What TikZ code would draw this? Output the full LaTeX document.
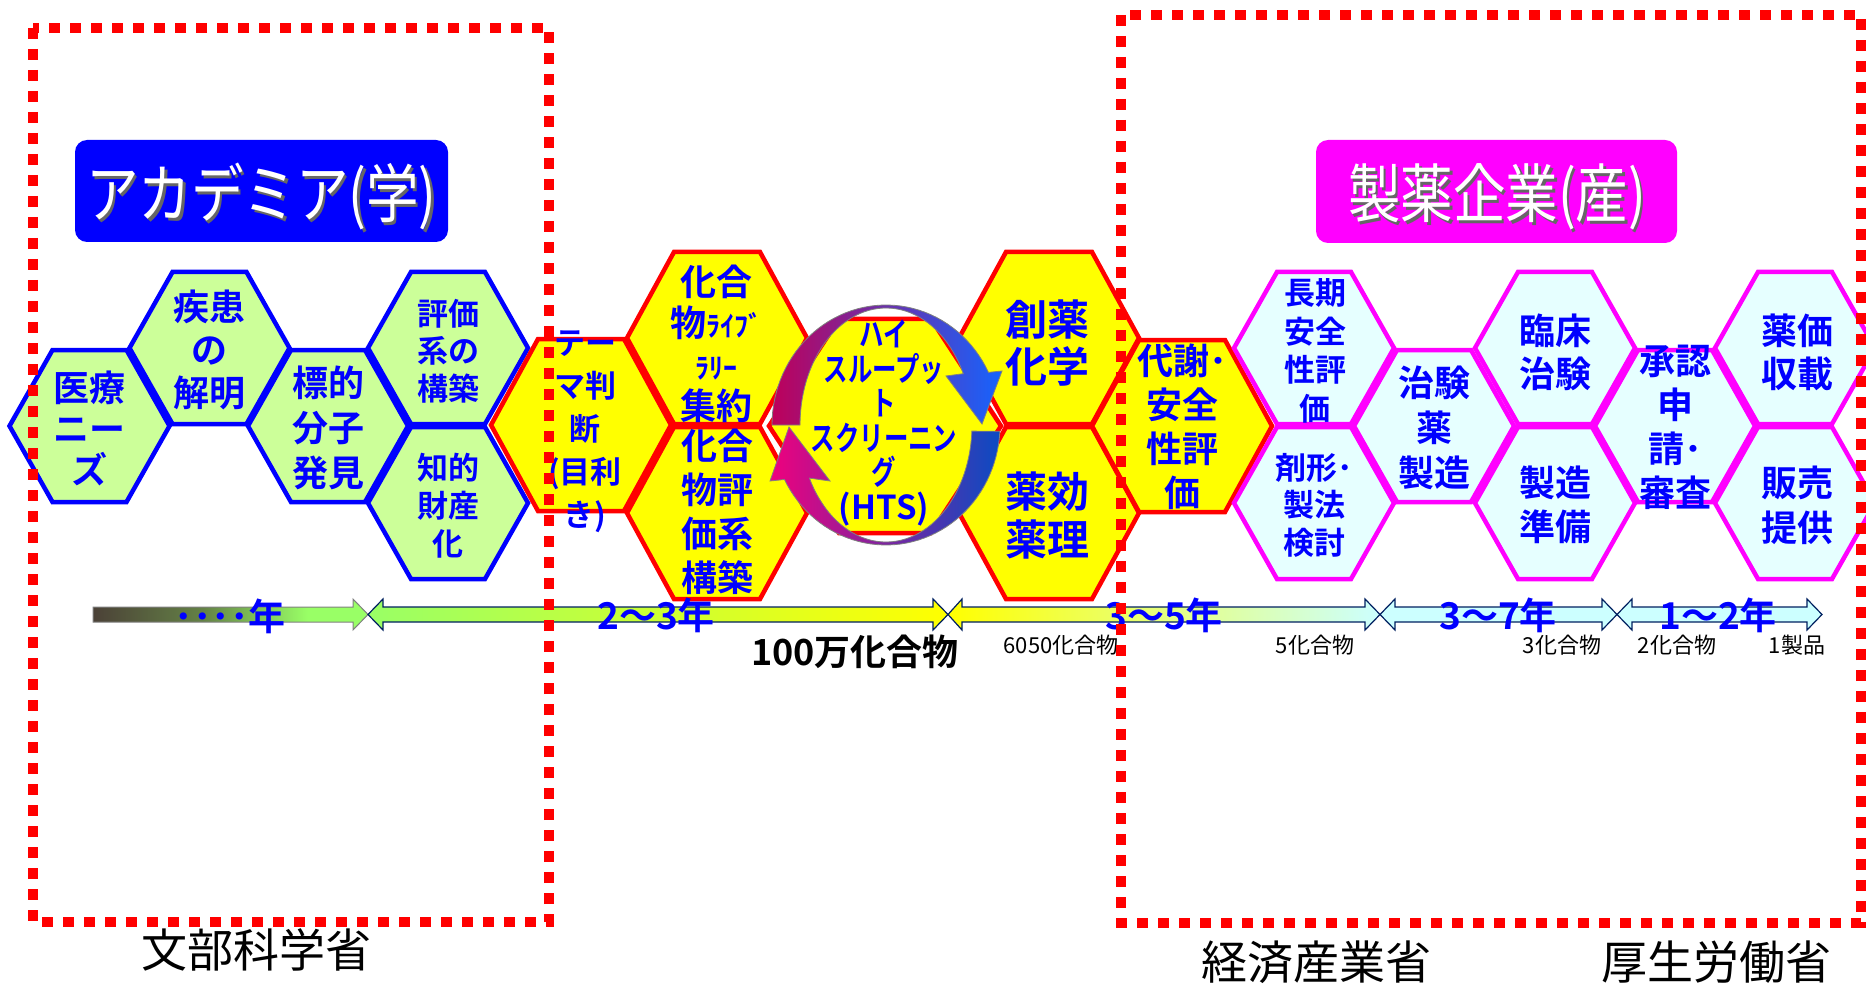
\documentclass[tikz,border=0pt]{standalone}
\usepackage{fontspec}
\newfontfamily\jp{Noto Sans CJK JP}[BoldFont={Noto Sans CJK JP Bold}]
\newfontfamily\jpbc{Noto Sans CJK JP Bold}[FakeStretch=0.74]
\newfontfamily\jpc{Noto Sans CJK JP}[FakeStretch=0.82]
\definecolor{hexgreen}{RGB}{204,255,153}
\definecolor{hexcyan}{RGB}{230,255,255}
\definecolor{mag}{RGB}{255,0,255}
\definecolor{pureblue}{RGB}{0,0,255}
\definecolor{purered}{RGB}{255,0,0}
\definecolor{pureyellow}{RGB}{255,255,0}
\definecolor{tlcyan}{RGB}{204,255,255}
\definecolor{tlgreen}{RGB}{153,255,102}
\definecolor{tlnavy}{RGB}{0,32,96}
\definecolor{tlA1}{RGB}{75,65,55}
\definecolor{tlA2}{RGB}{100,130,70}
\definecolor{tlA3}{RGB}{153,255,102}
\definecolor{tlpale}{RGB}{242,255,170}
\definecolor{ringA1}{RGB}{190,0,90}
\definecolor{ringA2}{RGB}{140,35,205}
\definecolor{ringA3}{RGB}{20,100,255}
\definecolor{ringB1}{RGB}{240,0,125}
\definecolor{ringB2}{RGB}{175,10,200}
\definecolor{ringB3}{RGB}{10,75,195}
\pgfdeclarehorizontalshading{tlA}{100bp}{color(0bp)=(tlA1); color(25bp)=(tlA1); color(45bp)=(tlA2); color(64bp)=(tlA3); color(100bp)=(tlA3)}
\newcommand\hexdraw[6]{%
  \path[#1] ({#2-#4},{#3}) -- ({#2-#5},{#3-#6}) -- ({#2+#5},{#3-#6}) -- ({#2+#4},{#3}) -- ({#2+#5},{#3+#6}) -- ({#2-#5},{#3+#6}) -- cycle;}
\begin{document}
\begin{tikzpicture}[x=1pt,y=-1pt,
  hexg/.style={draw=pureblue, fill=hexgreen, line width=4.5pt},
  hexy/.style={draw=purered, fill=pureyellow, line width=4.5pt},
  hexc/.style={draw=mag, fill=hexcyan, line width=4.5pt},
  tx/.style={text=pureblue, align=center, inner sep=0pt},
  fs/.style 2 args={font=\jp\bfseries\fontsize{#1}{#2}\selectfont},
  yr/.style={text=pureblue, inner sep=0pt, font=\jp\bfseries\fontsize{37}{40}\selectfont},
  cnt/.style={text=black, inner sep=0pt, font=\jp\fontsize{22}{24}\selectfont},
  tlseg/.style={draw=tlnavy, line width=1.2pt},
  ring/.style={draw=gray, line width=0.8pt},
  titletxt/.style={text=white, inner sep=0pt, font=\jpc\fontsize{64}{70}\selectfont},
  titleshadow/.style={text=black!60, inner sep=0pt, font=\jpc\fontsize{64}{70}\selectfont},
  titlebox/.style={rounded corners=12pt, inner sep=0pt},
  ministry/.style={text=black, inner sep=0pt, font=\jp\fontsize{46}{50}\selectfont},
  redbox/.style={draw=purered, line width=10pt, dash pattern=on 11pt off 10pt},
]
\useasboundingbox (0,0) rectangle (1866,984);
\clip (0,0) rectangle (1866,984);

% title boxes
\node[titlebox, fill=pureblue, minimum width=373pt, minimum height=102pt] (acadbox) at (261.5,191) {};
\node[titleshadow] (acadsh) at (264,200) {アカデミア(学)};
\node[titletxt] (acadtxt) at (261.5,197) {アカデミア(学)};
\node[titlebox, fill=mag, minimum width=361pt, minimum height=103pt] (indbox) at (1496.5,191.5) {};
\node[titleshadow] (indsh) at (1499.5,200) {製薬企業(産)};
\node[titletxt] (indtxt) at (1497,197) {製薬企業(産)};

% green hexagons
\hexdraw{hexg}{89.5}{426}{80}{37}{76}
\hexdraw{hexg}{209.5}{348}{80}{37}{76}
\hexdraw{hexg}{328}{426}{80}{37}{76}
\hexdraw{hexg}{448}{348}{80}{37}{76}
\hexdraw{hexg}{448}{503}{80}{37}{76}
% yellow hexagons
\hexdraw{hexy}{581}{425}{90}{43}{86}
\hexdraw{hexy}{717}{338}{90}{43}{86}
\hexdraw{hexy}{717}{513}{90}{43}{86}
\hexdraw{hexy}{1049}{338}{90}{43}{86}
\hexdraw{hexy}{1049}{513}{90}{43}{86}
\hexdraw{hexy}{885}{426}{116}{46}{107}
\hexdraw{hexy}{1182}{426}{90}{43}{86}
% cyan hexagons
\hexdraw{hexc}{1314}{348}{80}{37}{76}
\hexdraw{hexc}{1314}{503}{80}{37}{76}
\hexdraw{hexc}{1434}{426}{80}{37}{76}
\hexdraw{hexc}{1555}{348}{80}{37}{76}
\hexdraw{hexc}{1555}{503}{80}{37}{76}
\hexdraw{hexc}{1675}{426}{80}{37}{76}
\hexdraw{hexc}{1795}{348}{80}{37}{76}
\hexdraw{hexc}{1795}{503}{80}{37}{76}

% rotating arrows (HTS cycle)
\shadedraw[ring, left color=ringA1, middle color=ringA2, right color=ringA3]
  plot[domain=180:334, samples=50] ({886+114*cos(\x)},{425+120*sin(\x)})
  -- (1002,371) -- (982,424) -- (946,376)
  -- plot[domain=334:180, samples=50] ({886+86*cos(\x)},{425+117*sin(\x)}) -- cycle;
\shadedraw[ring, left color=ringB1, middle color=ringB2, right color=ringB3]
  plot[domain=3:153, samples=50] ({886+114*cos(\x)},{425+120*sin(\x)})
  -- (770,481) -- (789,427) -- (830,481)
  -- plot[domain=153:3, samples=50] ({886+86*cos(\x)},{425+117*sin(\x)}) -- cycle;

% hexagon texts
\node[tx, fs={36}{41}] (needs) at (89.5,428) {医療\\ニー\\ズ};
\node[tx, fs={36}{43}] (disease) at (209.5,350) {疾患\\の\\解明};
\node[tx, fs={36}{45}] (target) at (328,428) {標的\\分子\\発見};
\node[tx, fs={31}{37.5}] (assay) at (448,351) {評価\\系の\\構築};
\node[tx, fs={31}{38}] (ip) at (448,506) {知的\\財産\\化};
\node[tx, fs={31}{43}] (theme) at (585,432) {テー\\マ判\\断\\(目利\\き)};
\node[tx, fs={36}{41.5}] (library) at (716,344) {化合\\物{\fontsize{28}{30}\selectfont ﾗｲﾌﾞ}\\{\fontsize{28}{30}\selectfont ﾗﾘｰ}\\集約};
\node[tx, fs={36}{44}] (cpdassay) at (717,512) {化合\\物評\\価系\\構築};
\node[tx, font=\jpbc\fontsize{33}{34.5}\selectfont] (hts) at (884,423) {ハイ\\スループッ\\ト\\スクリーニン\\グ\\{\jp\bfseries\fontsize{33}{34}\selectfont(HTS)}};
\node[tx, fs={42}{47}] (medchem) at (1047,343) {創薬\\化学};
\node[tx, fs={42}{48}] (pharm) at (1047,516) {薬効\\薬理};
\node[tx, fs={36}{44}] (metab) at (1182,427) {代謝･\\安全\\性評\\価};
\node[tx, fs={31}{38.5}] (longtox) at (1315,351) {長期\\安全\\性評\\価};
\node[tx, fs={31}{37.5}] (formul) at (1314,505) {剤形･\\製法\\検討};
\node[tx, fs={36}{45}] (trialdrug) at (1434,428) {治験\\薬\\製造};
\node[tx, fs={36}{43}] (clinical) at (1555,352) {臨床\\治験};
\node[tx, fs={36}{44}] (mfgprep) at (1555,505) {製造\\準備};
\node[tx, fs={36}{44}] (approval) at (1675,427) {承認\\申\\請･\\審査};
\node[tx, fs={36}{43}] (pricing) at (1797,352) {薬価\\収載};
\node[tx, fs={36}{45}] (sales) at (1797,505) {販売\\提供};

% timeline
\shadedraw[draw=gray, line width=1pt, shading=tlA]
  (93,607) -- (353,607) -- (353,599) -- (368,614.5) -- (353,630) -- (353,622) -- (93,622) -- cycle;
\shadedraw[tlseg, left color=tlgreen, right color=pureyellow]
  (368,614.5) -- (383,599) -- (383,607) -- (933,607) -- (933,599) -- (948,614.5) -- (933,630) -- (933,622) -- (383,622) -- (383,630) -- cycle;
\shadedraw[tlseg, left color=pureyellow, middle color=tlpale, right color=tlcyan]
  (948,614.5) -- (962,599) -- (962,607) -- (1365,607) -- (1365,599) -- (1380,614.5) -- (1365,630) -- (1365,622) -- (962,622) -- (962,630) -- cycle;
\filldraw[tlseg, fill=tlcyan]
  (1380,614.5) -- (1395,599) -- (1395,607) -- (1602,607) -- (1602,599) -- (1617,614.5) -- (1602,630) -- (1602,622) -- (1395,622) -- (1395,630) -- cycle;
\filldraw[tlseg, fill=tlcyan]
  (1617,614.5) -- (1632,599) -- (1632,607) -- (1807,607) -- (1807,599) -- (1822,614.5) -- (1807,630) -- (1807,622) -- (1632,622) -- (1632,630) -- cycle;

\node[yr] (y0) at (230,616) {････年};
\node[yr] (y1) at (656,615) {2～3年};
\node[yr] (y2) at (1164,615) {3～5年};
\node[yr] (y3) at (1498,615) {3～7年};
\node[yr] (y4) at (1718,615) {1～2年};

\node[text=black, inner sep=0pt, font=\jp\bfseries\fontsize{36}{40}\selectfont] (million) at (855,652) {100万化合物};
\node[cnt] (c6050) at (1061,645) {6050化合物};
\node[cnt] (c5) at (1315,645) {5化合物};
\node[cnt] (c3) at (1562,645) {3化合物};
\node[cnt] (c2) at (1677,645) {2化合物};
\node[cnt] (c1) at (1797,645) {1製品};

% ministries
\node[ministry] (mext) at (256,950) {文部科学省};
\node[ministry] (meti) at (1316,962) {経済産業省};
\node[ministry] (mhlw) at (1716,962) {厚生労働省};

% dashed boxes
\draw[redbox] (33,28) rectangle (549,922);
\draw[redbox] (1121,15) rectangle (1861,923);
\end{tikzpicture}
\end{document}
